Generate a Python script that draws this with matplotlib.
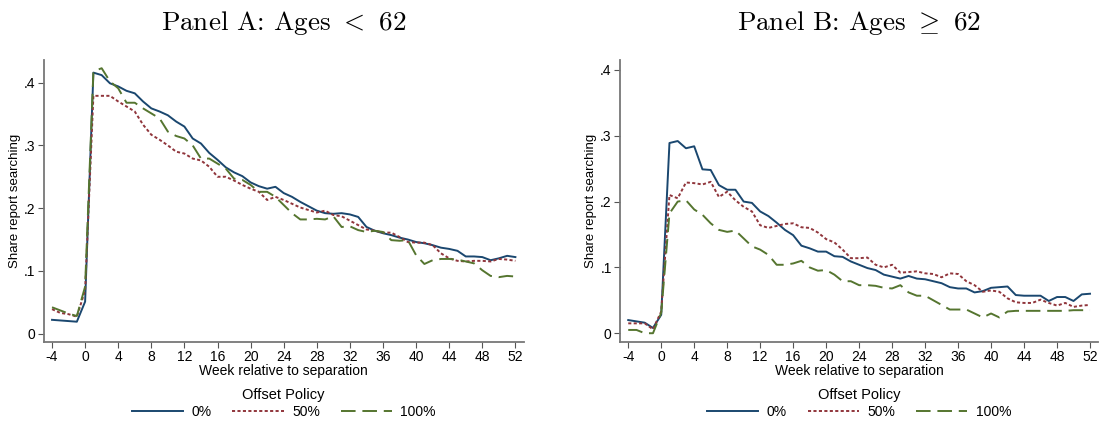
import matplotlib.pyplot as plt
import numpy as np

plt.rcParams['font.family'] = ['Liberation Sans', 'DejaVu Sans']
plt.rcParams['mathtext.fontset'] = 'cm'
plt.rcParams['axes.unicode_minus'] = False

weeks = np.arange(-4, 53)

# Panel A: ages < 62
a_0 = [.022, .021, .020, .019, .051, .416, .412, .399, .394, .387, .383, .370, .359,
       .354, .348, .338, .330, .311, .303, .288, .277, .265, .257, .251, .241, .235,
       .231, .234, .224, .218, .210, .203, .196, .192, .191, .192, .190, .186, .170,
       .164, .160, .157, .153, .150, .146, .144, .141, .137, .135, .132, .123, .123,
       .122, .117, .120, .124, .122]
a_50 = [.039, .033, .031, .027, .069, .379, .379, .379, .370, .362, .354, .333, .317,
        .309, .300, .290, .287, .279, .276, .266, .250, .250, .244, .237, .231, .226,
        .213, .218, .213, .207, .201, .197, .193, .196, .189, .187, .180, .173, .166,
        .164, .161, .161, .154, .146, .145, .145, .141, .128, .120, .116, .115, .116,
        .116, .115, .119, .118, .116]
a_100 = [.042, .037, .032, .028, .075, .418, .423, .402, .391, .368, .368, .359, .351,
         .343, .322, .315, .311, .300, .279, .279, .271, .263, .247, .245, .237, .226,
         .226, .218, .205, .192, .182, .182, .183, .182, .187, .170, .171, .165, .162,
         .164, .162, .149, .148, .149, .125, .111, .117, .119, .119, .118, .115, .112,
         .101, .092, .090, .092, .091]

# Panel B: ages >= 62
b_0 = [.020, .018, .016, .008, .028, .289, .292, .281, .284, .249, .248, .225, .218,
       .218, .200, .198, .185, .178, .168, .157, .149, .133, .129, .124, .124, .117,
       .116, .109, .104, .099, .096, .089, .086, .083, .087, .083, .082, .079, .076,
       .070, .068, .068, .062, .064, .069, .070, .071, .058, .057, .057, .057, .049,
       .055, .055, .049, .059, .060]
b_50 = [.015, .015, .015, .006, .033, .210, .205, .229, .228, .226, .230, .207, .215,
        .202, .192, .185, .164, .160, .163, .166, .167, .161, .160, .153, .143, .138,
        .127, .114, .114, .115, .104, .100, .104, .092, .093, .094, .091, .090, .085,
        .091, .090, .079, .073, .063, .065, .063, .053, .047, .046, .046, .051, .046,
        .042, .046, .040, .042, .043]
b_100 = [.005, .005, .000, .000, .031, .182, .200, .202, .188, .180, .167, .157, .154,
         .156, .144, .132, .127, .119, .104, .104, .106, .110, .100, .095, .096, .089,
         .079, .079, .073, .073, .072, .069, .068, .073, .062, .057, .057, .050, .043,
         .036, .036, .036, .030, .024, .030, .024, .033, .034, .034, .034, .034, .034,
         .034, .034, .035, .035, .035]

policies = ['0%', '50%', '100%']
colors = ['#1a476f', '#90353b', '#55752f']
dashes = [None, (1.6, 1.2), (7.5, 3.5)]

fig = plt.figure(figsize=(11.02, 4.23), dpi=100)
ax1 = fig.add_axes([0.0397, 0.192, 0.4355, 0.666])
ax2 = fig.add_axes([0.5626, 0.192, 0.434, 0.666])

panels = [(ax1, [a_0, a_50, a_100], r'Panel A: Ages $<$ 62', 0.436),
          (ax2, [b_0, b_50, b_100], r'Panel B: Ages $\geq$ 62', 0.415)]

for ax, series, title, ytop in panels:
    for vals, lab, c, d in zip(series, policies, colors, dashes):
        ln, = ax.plot(weeks, vals, color=c, lw=1.4, label=lab)
        if d is not None:
            ln.set_dashes(d)
    ax.set_xlim(-5, 53)
    ax.set_ylim(-0.013, ytop)
    ax.set_xticks(np.arange(-4, 53, 4))
    ax.set_yticks([0, .1, .2, .3, .4])
    ax.set_yticklabels(['0', '.1', '.2', '.3', '.4'])
    for s in ['top', 'right']:
        ax.spines[s].set_visible(False)
    for s in ['left', 'bottom']:
        ax.spines[s].set_color('#777777')
        ax.spines[s].set_linewidth(1.3)
    ax.tick_params(length=4, width=0.8, color='#555555', labelsize=10, pad=2)
    ax.set_xlabel('Week relative to separation', fontsize=10, labelpad=0)
    ax.set_ylabel('Share report searching', fontsize=9.5, labelpad=2)
    ax.set_title(title, fontsize=19.5, pad=22, family='cmr10')
    ax.legend(loc='upper center', bbox_to_anchor=(0.5, -0.165), ncol=3,
              frameon=False, title='Offset Policy', fontsize=10,
              title_fontsize=10.5, handlelength=3.7, columnspacing=1.5,
              handletextpad=0.6, borderaxespad=0, borderpad=0,
              labelspacing=0.2)

fig.savefig('out.png', dpi=100)
